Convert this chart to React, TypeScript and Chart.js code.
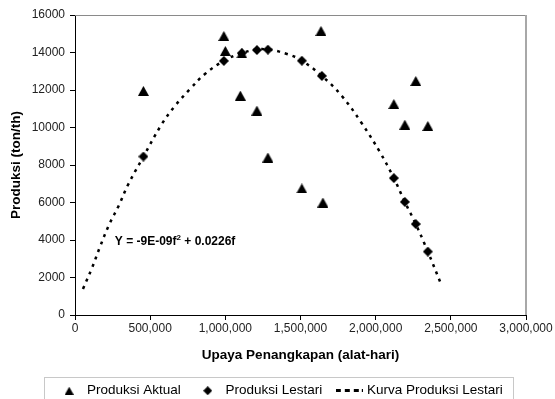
import React, { useEffect, useRef } from 'react';
import { Chart, registerables } from 'chart.js';

Chart.register(...registerables);

// ---- data ----
const seriesNames = ['Produksi Aktual', 'Produksi Lestari', 'Kurva Produksi Lestari'];

const aktualEffort = [455000, 990000, 1000000, 1110000, 1100000, 1210000, 1283000, 1509000, 1636000, 1649000, 2121000, 2194000, 2267000, 2347000];
const aktualProduksi = [11950, 14880, 14080, 13950, 11700, 10900, 8400, 6750, 15150, 6000, 11250, 10150, 12480, 10080];

const lestariEffort = [455000, 990000, 1110000, 1210000, 1283000, 1509000, 1642000, 2121000, 2194000, 2267000, 2347000];
const lestariProduksi = [8450, 13550, 13970, 14130, 14150, 13560, 12750, 7300, 6030, 4850, 3380];

const kurvaEffort = [53000, 113000, 166000, 226000, 293000, 352000, 452000, 578000, 665000, 765000, 864000, 990000, 1110000, 1255000, 1410000, 1509000, 1642000, 1775000, 1902000, 2028000, 2121000, 2194000, 2267000, 2347000, 2440000];
const kurvaProduksi = [1390, 2510, 3630, 4800, 5870, 6930, 8400, 10190, 11150, 12050, 12850, 13550, 13970, 14180, 13920, 13560, 12750, 11680, 10290, 8690, 7300, 6030, 4850, 3380, 1550];

const xTickLabels = ['0', '500,000', '1,000,000', '1,500,000', '2,000,000', '2,500,000', '3,000,000'];
const yTickLabels = ['0', '2000', '4000', '6000', '8000', '10000', '12000', '14000', '16000'];

const xTitle = 'Upaya Penangkapan (alat-hari)';
const yTitle = 'Produksi (ton/th)';
const equationMain = 'Y = -9E-09f';
const equationSup = '2';
const equationRest = ' + 0.0226f';
const equationAnchor = [265000, 3900];

const FONT = "'Liberation Sans', Arial, sans-serif";

function makeTriangle(w: number, h: number) {
  const c = document.createElement('canvas');
  c.width = w; c.height = h;
  const g = c.getContext('2d')!;
  g.fillStyle = '#000';
  g.beginPath();
  g.moveTo(w / 2, 0);
  g.lineTo(w, h);
  g.lineTo(0, h);
  g.closePath();
  g.fill();
  return c;
}

function makeDiamond(w: number, h: number) {
  const c = document.createElement('canvas');
  c.width = w; c.height = h;
  const g = c.getContext('2d')!;
  g.fillStyle = '#000';
  g.beginPath();
  g.moveTo(w / 2, 0);
  g.lineTo(w, h / 2);
  g.lineTo(w / 2, h);
  g.lineTo(0, h / 2);
  g.closePath();
  g.fill();
  return c;
}

function makeDash() {
  const c = document.createElement('canvas');
  c.width = 27; c.height = 3;
  const g = c.getContext('2d')!;
  g.fillStyle = '#000';
  g.fillRect(0, 0, 5, 3);
  g.fillRect(9, 0, 5, 3);
  g.fillRect(18, 0, 5, 3);
  g.fillRect(26, 0, 1, 3);
  return c;
}

export default function App() {
  const ref = useRef<HTMLCanvasElement>(null);

  useEffect(() => {
    const canvas = ref.current!;
    const tri = makeTriangle(11, 10);
    const dia = makeDiamond(10, 10);
    const triL = makeTriangle(9, 8);
    const diaL = makeDiamond(9, 9);
    const dash = makeDash();

    const framePlugin = {
      id: 'frame',
      afterDraw(chart: any) {
        const { ctx, chartArea } = chart;
        ctx.save();
        ctx.strokeStyle = '#8a8a8a';
        ctx.lineWidth = 1;
        ctx.beginPath();
        ctx.moveTo(chartArea.left, Math.round(chartArea.top) + 0.5);
        ctx.lineTo(chartArea.right, Math.round(chartArea.top) + 0.5);
        ctx.stroke();
        ctx.strokeStyle = '#a8a8a8';
        ctx.lineWidth = 2;
        ctx.beginPath();
        ctx.moveTo(Math.round(chartArea.right), chartArea.top);
        ctx.lineTo(Math.round(chartArea.right), chartArea.bottom);
        ctx.stroke();
        // legend frame
        const boxes = chart.legend?.legendHitBoxes || [];
        if (boxes.length) {
          let l = Infinity, r = -Infinity, t = Infinity;
          boxes.forEach((b: any) => { l = Math.min(l, b.left); r = Math.max(r, b.left + b.width); t = Math.min(t, b.top); });
          ctx.strokeStyle = '#c8c8c8';
          ctx.lineWidth = 1;
          ctx.strokeRect(Math.round(l - 14) + 0.5, Math.round(t - 7) + 0.5, Math.round(r - l + 24), 40);
        }
        ctx.restore();
      },
      afterDatasetsDraw(chart: any) {
        const { ctx, scales } = chart;
        const x = scales.x.getPixelForValue(equationAnchor[0]);
        const y = scales.y.getPixelForValue(equationAnchor[1]);
        ctx.save();
        ctx.fillStyle = '#000';
        ctx.textBaseline = 'middle';
        ctx.textAlign = 'left';
        ctx.font = `bold 12px ${FONT}`;
        ctx.fillText(equationMain, x, y);
        let w = ctx.measureText(equationMain).width;
        ctx.font = `bold 8px ${FONT}`;
        ctx.fillText(equationSup, x + w, y - 4);
        w += ctx.measureText(equationSup).width;
        ctx.font = `bold 12px ${FONT}`;
        ctx.fillText(equationRest, x + w, y);
        ctx.restore();
      },
    };

    const chart = new Chart(canvas, {
      type: 'scatter',
      data: {
        datasets: [
          {
            label: seriesNames[0],
            data: aktualEffort.map((x, i) => ({ x, y: aktualProduksi[i] })),
            pointStyle: tri as any,
            pointRadius: 5,
            backgroundColor: '#000',
            borderColor: '#000',
          },
          {
            label: seriesNames[1],
            data: lestariEffort.map((x, i) => ({ x, y: lestariProduksi[i] })),
            pointStyle: dia as any,
            pointRadius: 5,
            backgroundColor: '#000',
            borderColor: '#000',
          },
          {
            label: seriesNames[2],
            data: kurvaEffort.map((x, i) => ({ x, y: kurvaProduksi[i] })),
            showLine: true,
            borderColor: '#000',
            borderWidth: 2.5,
            borderDash: [3, 5],
            pointRadius: 0,
            tension: 0.4,
            fill: false,
          } as any,
        ],
      },
      options: {
        responsive: false,
        animation: false,
        devicePixelRatio: 1,
        layout: { padding: { top: 15, left: 6, right: 0, bottom: 0 } },
        plugins: {
          tooltip: { enabled: false },
          legend: {
            position: 'bottom',
            maxHeight: 31,
            labels: {
              usePointStyle: true,
              pointStyleWidth: 22,
              boxHeight: 8,
              padding: 16,
              color: '#000',
              font: { family: FONT, size: 13.5 },
              generateLabels: () => [
                { text: seriesNames[0], pointStyle: triL, fillStyle: '#000', strokeStyle: '#000', lineWidth: 0, hidden: false, datasetIndex: 0, fontColor: '#000' },
                { text: seriesNames[1], pointStyle: diaL, fillStyle: '#000', strokeStyle: '#000', lineWidth: 0, hidden: false, datasetIndex: 1, fontColor: '#000' },
                { text: seriesNames[2], pointStyle: dash, fillStyle: '#000', strokeStyle: '#000', lineWidth: 0, hidden: false, datasetIndex: 2, fontColor: '#000' },
              ] as any,
            },
          },
        },
        scales: {
          x: {
            type: 'linear',
            min: 0,
            max: 3000000,
            ticks: {
              stepSize: 500000,
              autoSkip: false,
              maxRotation: 0,
              padding: 1,
              color: '#222',
              font: { family: FONT, size: 12 },
              callback: (_v: any, i: number) => xTickLabels[i],
            },
            grid: { drawOnChartArea: false, drawTicks: true, tickLength: 5, color: '#000' },
            border: { display: true, color: '#000', width: 1 },
            title: {
              display: true,
              text: xTitle,
              color: '#000',
              font: { family: FONT, size: 13.5, weight: 'bold' },
              padding: { top: 0, bottom: 5 },
            },
            afterFit: (s: any) => { s.height = 53; s.paddingRight = 29; },
          },
          y: {
            type: 'linear',
            min: 0,
            max: 16000,
            ticks: {
              stepSize: 2000,
              autoSkip: false,
              padding: 5,
              color: '#222',
              font: { family: FONT, size: 12 },
              callback: (_v: any, i: number) => yTickLabels[i],
            },
            grid: { drawOnChartArea: false, drawTicks: true, tickLength: 5, color: '#000' },
            border: { display: true, color: '#000', width: 1 },
            title: {
              display: true,
              text: yTitle,
              color: '#000',
              font: { family: FONT, size: 13.5, weight: 'bold' },
              padding: { top: 2, bottom: 0 },
            },
            afterFit: (s: any) => { s.width = 69; },
          },
        },
      } as any,
      plugins: [framePlugin],
    });
    return () => chart.destroy();
  }, []);

  return (
    <div style={{ position: 'absolute', left: 0, top: 0, width: 555, height: 399, background: '#fff' }}>
      <canvas ref={ref} width={555} height={399} style={{ display: 'block' }} />
    </div>
  );
}
